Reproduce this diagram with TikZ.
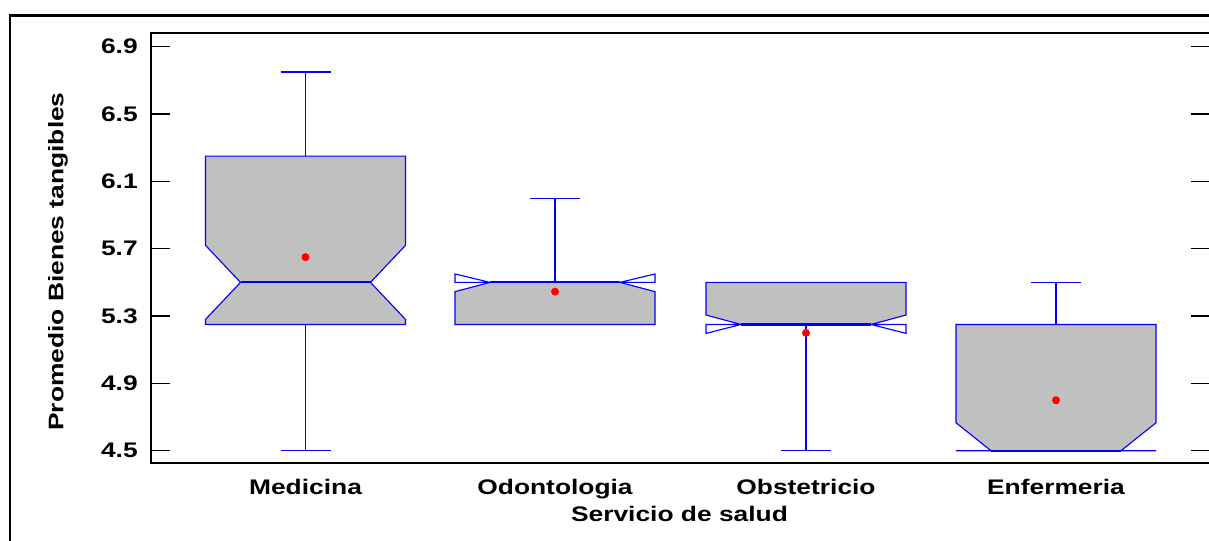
\documentclass[tikz,border=0pt]{standalone}
\usepackage{fontspec}
\setmainfont{Liberation Sans}[FakeStretch=1.25]
\definecolor{boxblue}{RGB}{0,0,255}
\definecolor{boxgray}{RGB}{192,192,192}
\definecolor{meanred}{RGB}{255,0,0}

\begin{document}
\begin{tikzpicture}[line cap=butt,line join=miter,x=0.025cm,y=4.2075cm,
  font=\fontsize{15}{18}\selectfont\bfseries,
  outer/.style={black,line width=1.5pt},
  axis/.style={black,line width=1.2pt},
  tick/.style={black,line width=0.8pt},
  outline/.style={boxblue,line width=0.8pt},
  median/.style={boxblue,line width=1.5pt},
  whisk/.style={boxblue,line width=0.8pt}]
\useasboundingbox (0,3.9689) rectangle (1209,7.1775);
% frames
\draw[outer] (10,3.9) -- (10,7.0854) -- (1220,7.0854);
\draw[axis] (151,4.4264) rectangle (1212,6.9814);
% y axis
\foreach \v [count=\i] in {4.5,4.9,5.3,5.7,6.1,6.5,6.9}{
  \draw[tick] (151,\v) -- (170,\v) (1191,\v) -- (1212,\v);
  \node[anchor=east,inner sep=0pt] (ylab\i) at (138,\v) {\v};
}
% boxes: center/q1/notch low/median/notch high/q3/low/high/mean
\foreach \c/\qa/\nl/\me/\nu/\qc/\wl/\wu/\mn in {
  305.5/5.25/5.28/5.5/5.72/6.25/4.5/6.75/5.65,
  555/5.25/5.445/5.5/5.55/5.5/5.25/6.0/5.445,
  806/5.25/5.197/5.25/5.306/5.5/4.5/5.5/5.2,
  1056/4.5/4.5/4.5/4.666/5.25/4.5/5.5/4.8}{
  \pgfmathsetmacro\fl{max(\nl,\qa)}
  \pgfmathsetmacro\fu{min(\nu,\qc)}
  \fill[boxgray] (\c-100,\qa) -- (\c-100,\fl) -- (\c-65,\me) -- (\c-100,\fu) -- (\c-100,\qc)
    -- (\c+100,\qc) -- (\c+100,\fu) -- (\c+65,\me) -- (\c+100,\fl) -- (\c+100,\qa) -- cycle;
  \draw[outline] (\c-100,\qa) -- (\c-100,\nl) -- (\c-65,\me) -- (\c-100,\nu) -- (\c-100,\qc)
    -- (\c+100,\qc) -- (\c+100,\nu) -- (\c+65,\me) -- (\c+100,\nl) -- (\c+100,\qa) -- cycle;
  \draw[median] (\c-65,\me) -- (\c+65,\me);
  \draw[whisk] (\c,\qc) -- (\c,\wu) (\c-25,\wu) -- (\c+25,\wu);
  \draw[whisk] (\c,\qa) -- (\c,\wl) (\c-25,\wl) -- (\c+25,\wl);
  \fill[meanred] (\c,\mn) circle[radius=0.1cm];
}
% labels
\node[anchor=base] (medicina) at (305.5,4.2422) {Medicina};
\node[anchor=base] (odonto) at (555,4.2422) {Odontologia};
\node[anchor=base] (obste) at (806,4.2422) {Obstetricio};
\node[anchor=base] (enfer) at (1056,4.2422) {Enfermeria};
\node[anchor=base] (xtitle) at (679.5,4.0776) {Servicio de salud};
\node[anchor=base,rotate=90] (ytitle) at (63.3,5.6237) {Promedio Bienes tangibles};
\end{tikzpicture}
\end{document}
